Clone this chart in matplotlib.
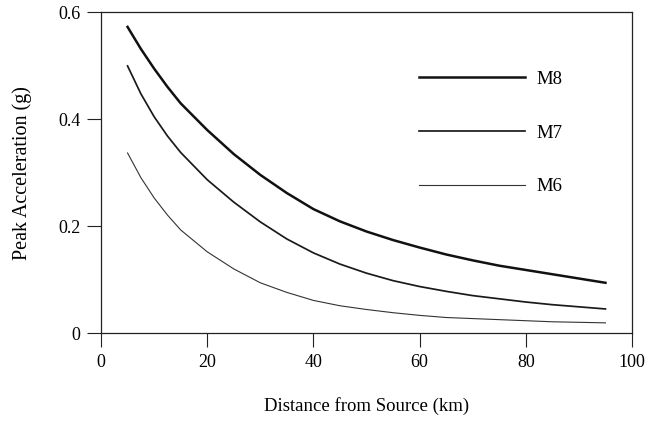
import matplotlib
matplotlib.use("Agg")
import matplotlib.pyplot as plt

plt.rcParams['font.family'] = ['Liberation Serif', 'DejaVu Serif']

distance_km = [5, 7.5, 10, 12.5, 15, 20, 25, 30, 35, 40, 45, 50, 55, 60, 65, 70, 75, 80, 85, 90, 95]
m8_accel = [0.573, 0.532, 0.495, 0.461, 0.430, 0.380, 0.335, 0.296, 0.262, 0.232, 0.209, 0.190,
            0.174, 0.160, 0.147, 0.136, 0.126, 0.118, 0.110, 0.102, 0.094]
m7_accel = [0.500, 0.448, 0.405, 0.369, 0.338, 0.287, 0.245, 0.208, 0.176, 0.150, 0.129, 0.112,
            0.098, 0.087, 0.078, 0.070, 0.064, 0.058, 0.053, 0.049, 0.045]
m6_accel = [0.337, 0.291, 0.253, 0.221, 0.193, 0.152, 0.120, 0.094, 0.076, 0.061, 0.051, 0.044,
            0.038, 0.033, 0.029, 0.027, 0.025, 0.023, 0.021, 0.020, 0.019]
labels = ["M8", "M7", "M6"]
x_ticks = [0, 20, 40, 60, 80, 100]
y_ticks = [0, 0.2, 0.4, 0.6]
y_tick_labels = ["0", "0.2", "0.4", "0.6"]

fig = plt.figure(figsize=(6.48, 4.23), dpi=100)
ax = fig.add_axes([101/648, 1-333/423, 531/648, (333-12.5)/423])

ax.plot(distance_km, m8_accel, color="#111111", lw=1.8, label=labels[0])
ax.plot(distance_km, m7_accel, color="#1a1a1a", lw=1.25, label=labels[1])
ax.plot(distance_km, m6_accel, color="#333333", lw=0.8, label=labels[2])

ax.set_xlim(0, 100)
ax.set_ylim(0, 0.6)
ax.set_xticks(x_ticks)
ax.set_xticklabels([str(t) for t in x_ticks])
ax.set_yticks(y_ticks)
ax.set_yticklabels(y_tick_labels)
ax.tick_params(direction="out", length=10, width=0.8, labelsize=13, pad=5, color="#222222")
for s in ax.spines.values():
    s.set_linewidth(0.9)
    s.set_color("#222222")

ax.set_xlabel("Distance from Source (km)", fontsize=13.5, labelpad=19)
ax.set_ylabel("Peak Acceleration (g)", fontsize=14.5, labelpad=19)

leg = ax.legend(loc="upper left", bbox_to_anchor=(0.598, 0.818), frameon=False,
                fontsize=13.5, handlelength=5.7, handletextpad=0.6,
                labelspacing=1.95, borderpad=0, borderaxespad=0)

fig.savefig("out.png", dpi=100)
